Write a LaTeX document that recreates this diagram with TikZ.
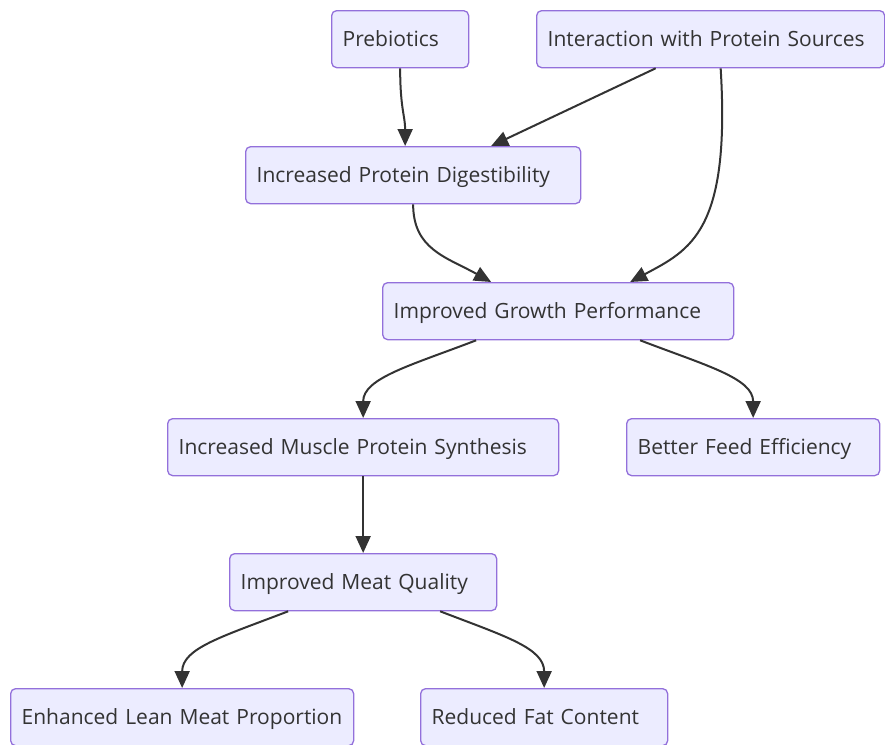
\documentclass[tikz,border=0pt]{standalone}
\usepackage{fontspec}
\setmainfont{Open Sans}
\usepackage{tikz}
\usetikzlibrary{arrows.meta}
\definecolor{boxfill}{HTML}{ECECFF}
\definecolor{boxline}{HTML}{9370DB}
\definecolor{ink}{HTML}{333333}

\begin{document}
\begin{tikzpicture}[x=1pt, y=-1pt, >={Triangle[length=17pt, width=15pt]},
      box/.style={draw=boxline, fill=boxfill, line width=1.3pt, rounded
      corners=5pt, anchor=north west, align=left, inner xsep=11pt, inner
      ysep=0pt, minimum height=57pt, text=ink, text height=18pt, text
      depth=3pt, font=\fontsize{21}{25}\selectfont},
      arrow/.style={->, draw=ink, line width=2pt} ]

    \useasboundingbox (0,0) rectangle (885,744);

    % Top row
    \node[box, text width=115pt] (pre) at (331,10) {Prebiotics};
    \node[box, text width=326pt] (inter) at (536,10) {Interaction with Protein Sources};

    % Middle
    \node[box, text width=313pt] (dig) at (245,146) {Increased Protein Digestibility};
    \node[box, text width=329pt] (growth) at (382,282) {Improved Growth Performance};
    \node[box, text width=369pt] (muscle) at (167,418) {Increased Muscle Protein Synthesis};
    \node[box, text width=231pt] (feed) at (626,418) {Better Feed Efficiency};
    \node[box, text width=245pt] (meat) at (229,553) {Improved Meat Quality};

    % Bottom row
    \node[box, text width=321pt] (lean) at (10,688) {Enhanced Lean Meat Proportion};
    \node[box, text width=225pt] (fat) at (420,688) {Reduced Fat Content};

    % Edges
    \draw[arrow] (pre.south) .. controls +(0,40) and +(0,-30) .. ([xshift=-8pt]dig.north);
    \draw[arrow] ([xshift=-55pt]inter.south) -- ([xshift=78pt]dig.north);
    \draw[arrow] ([xshift=10pt]inter.south) .. controls +(10,163) and +(60,-32) .. ([xshift=72pt]growth.north);
    \draw[arrow] (dig.south) .. controls +(0,45) and +(-45,-25) .. ([xshift=-67pt]growth.north);
    \draw[arrow] ([xshift=-82pt]growth.south) .. controls +(-65,25) and +(0,-40) .. (muscle.north);
    \draw[arrow] ([xshift=82pt]growth.south) .. controls +(65,25) and +(0,-40) .. (feed.north);
    \draw[arrow] (muscle.south) -- (meat.north);
    \draw[arrow] ([xshift=-75pt]meat.south) .. controls +(-65,25) and +(0,-40) .. (lean.north);
    \draw[arrow] ([xshift=77pt]meat.south) .. controls +(65,25) and +(0,-40) .. (fat.north);

  \end{tikzpicture}
\end{document}
